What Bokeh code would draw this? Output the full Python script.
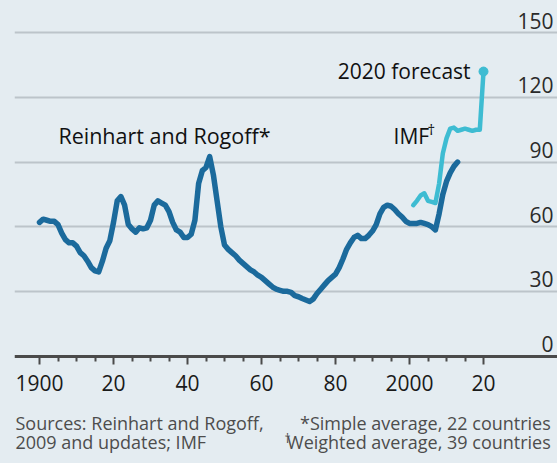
from bokeh.plotting import figure
from bokeh.models import Range1d, FixedTicker, Grid, Label, ColumnDataSource
from bokeh.core.properties import value
from bokeh.embed import file_html
from bokeh.resources import INLINE

# ---------------- data ----------------
RR_YEARS = list(range(1900, 2014))
RR_VALUES = [
    62, 63.5, 63, 62.5, 62.5, 61, 57, 54, 52.5, 52.5,          # 1900-1909
    51, 48, 46.5, 44, 41, 39.5, 39, 44, 50, 53.5,              # 1910-1919
    62, 72, 74, 70, 61, 59, 57.5, 59.5, 59, 59.5,              # 1920-1929
    63, 70, 72, 71, 70, 67, 62, 58.5, 57.5, 55,                # 1930-1939
    55, 56.5, 63, 80, 86, 87.5, 92.5, 84, 72, 60,              # 1940-1949
    51.5, 49.5, 48, 46.5, 44.5, 43, 41.5, 40, 39, 37.5,        # 1950-1959
    36.5, 35, 33.5, 32, 31, 30.5, 30, 30, 29.5, 28,            # 1960-1969
    27.5, 26.7, 26, 25.3, 26.5, 29, 31, 33, 35, 36.5,          # 1970-1979
    38, 41, 45, 49.5, 52.5, 55, 56, 54.5, 54.5, 56,            # 1980-1989
    58, 61, 66, 69, 70, 69.5, 68, 66, 64.5, 62.5,              # 1990-1999
    61.5, 61.5, 61.5, 62, 61.5, 61, 60, 58.5, 66, 75,          # 2000-2009
    81, 85, 88, 90,                                            # 2010-2013
]
IMF_YEARS = list(range(2001, 2021))
IMF_VALUES = [70, 72, 74.5, 75.5, 72, 71.5, 71, 80, 94, 101,
              105.5, 106, 104.5, 105, 105.5, 105, 104.5, 105, 105, 132]

X_TICKS = [1900, 1920, 1940, 1960, 1980, 2000, 2020]
X_TICK_LABELS = ["1900", "20", "40", "60", "80", "2000", "20"]
X_MINOR_TICKS = [y for y in range(1905, 2020, 5) if y not in X_TICKS]
Y_TICKS = [0, 30, 60, 90, 120, 150]
Y_TICK_LABELS = ["0", "30", "60", "90", "120", "150"]

# ---------------- style ----------------
BG = "#e4ecf1"
DARK = "#1b6a9c"
LIGHT = "#3ebcd2"
GRID = "#bcc4ca"
AXIS = "#4a4a4a"
FONT = "Open Sans"

W, H = 557, 463
X0, X1 = 1893.24, 2040.0
Y0, Y1 = -49.88, 164.97

p = figure(width=W, height=H, output_backend="svg", toolbar_location=None,
           x_range=Range1d(X0, X1), y_range=Range1d(Y0, Y1),
           y_axis_location=None,
           min_border_left=14, min_border_right=0, min_border_top=0,
           min_border_bottom=0)
p.background_fill_color = BG
p.border_fill_color = BG
p.outline_line_color = None
p.xgrid.visible = False
p.ygrid.visible = False

p.add_layout(Grid(dimension=1, ticker=FixedTicker(ticks=Y_TICKS[1:]),
                  grid_line_color=GRID, grid_line_width=2))

ax = p.xaxis[0]
ax.fixed_location = 0
ax.ticker = FixedTicker(ticks=X_TICKS, minor_ticks=X_MINOR_TICKS)
ax.major_label_overrides = {t: l for t, l in zip(X_TICKS, X_TICK_LABELS)}
ax.axis_line_color = AXIS
ax.axis_line_width = 3
ax.major_tick_line_color = AXIS
ax.major_tick_line_width = 2
ax.major_tick_in = 0
ax.major_tick_out = 8
ax.minor_tick_line_color = AXIS
ax.minor_tick_line_width = 2
ax.minor_tick_in = 0
ax.minor_tick_out = 5
ax.major_label_standoff = 11
ax.major_label_text_font = FONT
ax.major_label_text_font_size = "21px"
ax.major_label_text_color = "#1a1a1a"

# y tick labels sitting above the gridlines, right aligned
ysrc = ColumnDataSource(dict(x=[X1] * len(Y_TICKS), y=Y_TICKS, t=Y_TICK_LABELS))
p.text(x="x", y="y", text="t", source=ysrc, text_align="right",
       text_baseline="alphabetic", x_offset=-4, y_offset=-12,
       text_font=value(FONT), text_font_size="21px", text_color="#2a2a2a")

# series
p.line(RR_YEARS, RR_VALUES, line_color=DARK, line_width=5.5,
       line_join="round", line_cap="round")
p.line(IMF_YEARS, IMF_VALUES, line_color=LIGHT, line_width=4.5,
       line_join="round", line_cap="round")
p.scatter(x=IMF_YEARS[-1:], y=IMF_VALUES[-1:], size=9, color=LIGHT)

# annotations
def lab(x, y, text, size="21px", align="left", color="#111111", xo=0, yo=0):
    p.add_layout(Label(x=x, y=y, text=text, text_font=FONT, text_font_size=size,
                       text_color=color, text_align=align,
                       text_baseline="alphabetic", x_offset=xo, y_offset=yo))

lab(1905.1, 98.0, "Reinhart and Rogoff*", size="21.5px", yo=9)
lab(2016.5, 129.9, "2020 forecast", yo=5, align="right")
lab(1995.7, 98.1, "IMF", yo=9)
lab(1995.7, 98.1, "\u2020", size="15px", xo=34, yo=16)

# footnotes
FOOT = "#4d4d4d"
lab(1893.5, -34.1, "Sources: Reinhart and Rogoff,", size="18px", color=FOOT, yo=6)
lab(1893.5, -43.8, "2009 and updates; IMF", size="18px", color=FOOT, yo=8)
lab(2039.0, -34.1, "*Simple average, 22 countries", size="18px", align="right",
    color=FOOT, xo=-3, yo=6)
lab(2039.0, -43.8, "Weighted average, 39 countries", size="18px", align="right",
    color=FOOT, xo=-3, yo=8)
lab(1966.2, -43.8, "\u2020", size="12px", color=FOOT, yo=12)

html = file_html(p, INLINE)
html = html.replace("</head>", "<style>body{background:%s;}</style></head>" % BG, 1)
open("out.html", "w").write(html)
